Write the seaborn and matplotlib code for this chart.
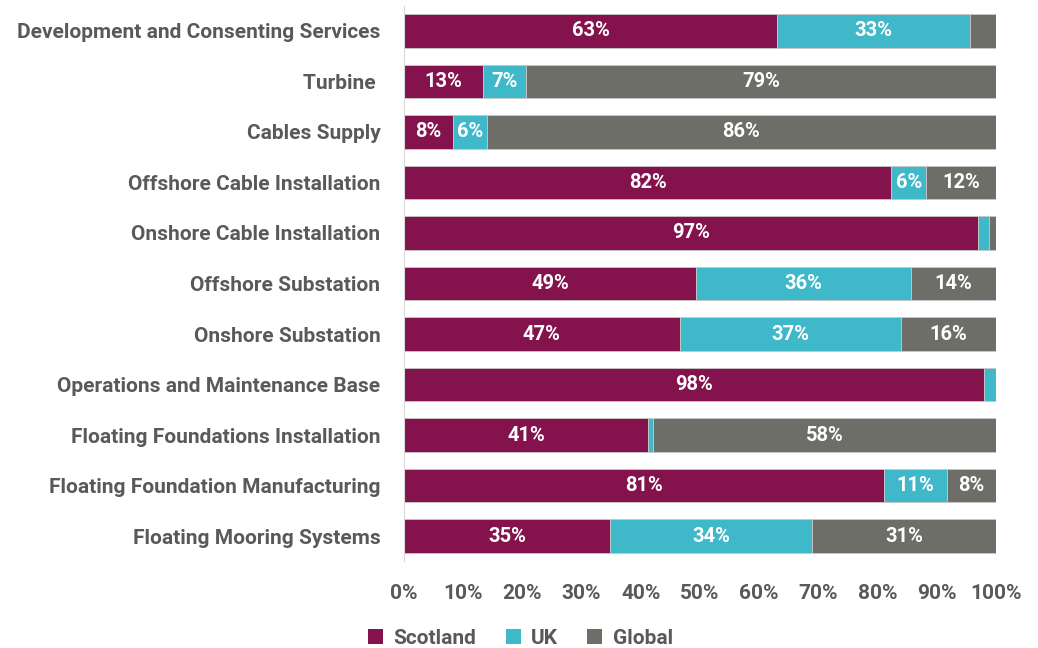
import matplotlib
matplotlib.use("Agg")
import matplotlib.pyplot as plt
from matplotlib.patches import Patch
import numpy as np
import pandas as pd
import seaborn as sns

categories = [
    "Development and Consenting Services",
    "Turbine ",
    "Cables Supply",
    "Offshore Cable Installation",
    "Onshore Cable Installation",
    "Offshore Substation",
    "Onshore Substation",
    "Operations and Maintenance Base",
    "Floating Foundations Installation",
    "Floating Foundation Manufacturing",
    "Floating Mooring Systems",
]
scotland = [63.0, 13.4, 8.3, 82.3, 97.0, 49.3, 46.6, 98.0, 41.2, 81.1, 34.8]
uk = [32.6, 7.2, 5.7, 5.9, 1.9, 36.3, 37.4, 2.0, 0.8, 10.6, 34.1]
global_share = [4.4, 79.4, 86.0, 11.8, 1.1, 14.4, 16.0, 0.0, 58.0, 8.3, 31.1]

series_names = ["Scotland", "UK", "Global"]
series_values = [scotland, uk, global_share]
series_colors = ["#84134D", "#3FB8C9", "#6D6E68"]
x_ticks = [0, 10, 20, 30, 40, 50, 60, 70, 80, 90, 100]
x_tick_labels = [f"{t}%" for t in x_ticks]

sns.set_theme(style="white")
plt.rcParams["font.family"] = ["Roboto", "DejaVu Sans"]

fig = plt.figure(figsize=(10.38, 6.48), dpi=100)
ax = fig.add_axes([404 / 1038, 1 - 561.3 / 648, 592 / 1038, 555.6 / 648])

text_grey = "#595959"
label_size = 15
running = np.zeros(len(categories))
for name, vals, col in zip(series_names, series_values, series_colors):
    df = pd.DataFrame({"category": categories, "share": vals})
    sns.barplot(
        data=df, x="share", y="category", order=categories, orient="y",
        color=col, saturation=1, width=0.67, left=running.copy(),
        edgecolor="#c8c8c8", linewidth=0.6, ax=ax, errorbar=None,
    )
    # value labels on segments wide enough to hold them
    for i, v in enumerate(vals):
        if v >= 5:
            ax.text(running[i] + v / 2, i, f"{v:.0f}%", ha="center", va="center",
                    color="white", fontsize=14.5, fontweight="bold")
    running += np.array(vals)

ax.set_xlim(0, 100)
ax.set_ylim(len(categories) - 0.5, -0.5)
ax.set_xticks(x_ticks)
ax.set_xticklabels(x_tick_labels)
ax.set_xlabel("")
ax.set_ylabel("")
ax.tick_params(axis="x", length=0, pad=16, labelsize=label_size, labelcolor=text_grey)
ax.tick_params(axis="y", length=0, pad=17, labelsize=label_size, labelcolor=text_grey)
for lbl in ax.get_xticklabels() + ax.get_yticklabels():
    lbl.set_fontweight("bold")
for side in ["top", "right", "bottom"]:
    ax.spines[side].set_visible(False)
ax.spines["left"].set_color("#d9d9d9")
ax.spines["left"].set_linewidth(0.8)

handles = [Patch(facecolor=c, edgecolor="none", label=n) for n, c in zip(series_names, series_colors)]
leg = fig.legend(handles=handles, loc="center left", bbox_to_anchor=(362 / 1038, 1 - 638 / 648),
                 ncol=3, frameon=False, handlelength=0.72, handleheight=0.72,
                 handletextpad=0.5, columnspacing=1.4, borderaxespad=0, borderpad=0.3,
                 prop={"family": ["Roboto", "DejaVu Sans"], "weight": "bold", "size": label_size})
for t in leg.get_texts():
    t.set_color(text_grey)

fig.savefig("out.png", dpi=100)
